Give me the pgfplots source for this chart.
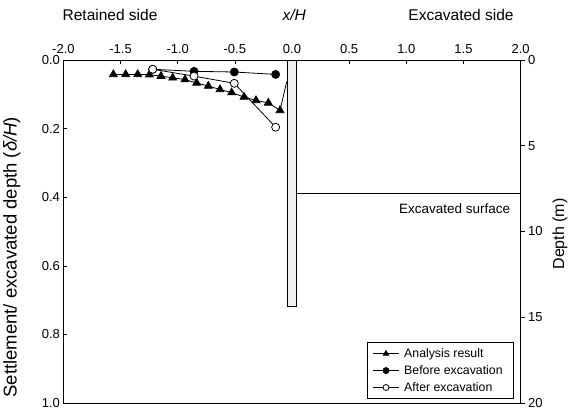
\documentclass[border=0pt]{standalone}
\usepackage{pgfplots}
\pgfplotsset{compat=1.18}
\usepackage{fontspec}
\setmainfont{Liberation Sans}
\begin{document}
\begin{tikzpicture}
\path[use as bounding box] (-63.4pt,-6pt) rectangle (513.6pt,403pt);
\begin{axis}[
  at={(0,0)}, anchor=south west,
  scale only axis, width=457.2pt, height=343pt,
  xmin=-2, xmax=2, ymin=0, ymax=1, y dir=reverse,
  xtick={-2,-1.5,-1,-0.5,0,0.5,1,1.5,2},
  ytick={0,0.2,0.4,0.6,0.8,1},
  xtick pos=upper, xticklabel pos=upper, ytick pos=left,
  tick align=inside,
  major tick length=4pt,
  axis line style={line width=0.8pt},
  tick style={line width=0.6pt, black},
  tick label style={font=\fontsize{13}{15}\selectfont},
  xticklabel style={yshift=3pt},
  /pgf/number format/.cd, fixed, fixed zerofill, precision=1, assume math mode=true,
  /pgfplots/.cd,
  ylabel={Settlement/ excavated depth (\textit{δ/H})},
  ylabel style={at={(axis description cs:-0.1125,0.425)}, anchor=center, rotate=0, font=\fontsize{18.5}{20}\selectfont},
  clip=false,
  legend cell align=left,
  legend image code/.code={\draw[mark repeat=2,mark phase=2,#1, mark size=3pt] plot coordinates {(0cm,0cm) (0.45cm,0cm) (0.9cm,0cm)};},
  legend style={at={(0.9855,0.0117)}, anchor=south east, draw=black, line width=0.6pt,
    font=\fontsize{12.3}{14}\selectfont, inner xsep=6pt, inner ysep=4pt, row sep=2.5pt,
    nodes={inner xsep=5pt}},
]
% wall
\addplot[draw=black, line width=0.8pt, fill=gray!12, forget plot] coordinates {(-0.04,0) (0.04,0) (0.04,0.717) (-0.04,0.717) (-0.04,0)};
% excavated surface
\addplot[black, line width=0.8pt, forget plot] coordinates {(0.04,0.39) (2.0,0.39)};
% analysis
\addplot[black, line width=0.8pt, mark=triangle*, mark size=4.5pt, mark options={fill=black}] coordinates {
(-1.563,0.042) (-1.455,0.042) (-1.350,0.042) (-1.248,0.043) (-1.146,0.047) (-1.044,0.052)
(-0.936,0.057) (-0.834,0.067) (-0.732,0.076) (-0.630,0.086) (-0.528,0.095) (-0.420,0.108)
(-0.315,0.118) (-0.207,0.125) (-0.105,0.147)};
\addlegendentry{Analysis result}
\addplot[black, line width=0.8pt, forget plot] coordinates {(-0.105,0.147) (-0.046,0.063)};
% before
\addplot[black, line width=0.8pt, mark=*, mark size=4pt, mark options={fill=black}] coordinates {
(-1.219,0.027) (-0.857,0.033) (-0.505,0.035) (-0.143,0.042)};
\addlegendentry{Before excavation}
% after
\addplot[black, line width=0.8pt, mark=*, mark size=4pt, mark options={fill=white}] coordinates {
(-1.219,0.027) (-0.857,0.047) (-0.505,0.068) (-0.143,0.196)};
\addlegendentry{After excavation}
\node[font=\fontsize{15.5}{18}\selectfont] at (axis cs:-1.592,-0.131) {Retained side};
\node[font=\fontsize{15.5}{18}\selectfont] at (axis cs:0.02,-0.131) {\textit{x/H}};
\node[font=\fontsize{15.5}{18}\selectfont] at (axis cs:1.479,-0.131) {Excavated side};
\node[anchor=east, font=\fontsize{13.5}{16}\selectfont] at (axis cs:1.94,0.434) {Excavated surface};
\end{axis}
\begin{axis}[
  at={(0,0)}, anchor=south west,
  scale only axis, width=457.2pt, height=343pt,
  xmin=-2, xmax=2, ymin=0, ymax=20, y dir=reverse,
  axis x line=none, axis y line*=right,
  ytick={0,5,10,15,20},
  tick align=outside, major tick length=4pt,
  axis line style={line width=0.8pt},
  tick style={line width=0.6pt, black},
  tick label style={font=\fontsize{13}{15}\selectfont},
  /pgf/number format/assume math mode=true,
  ylabel={Depth (m)},
  ylabel style={at={(axis description cs:1.086,0.493)}, anchor=center, rotate=0, font=\fontsize{16}{18}\selectfont},
]
\addplot[draw=none, forget plot] coordinates {(0,0)};
\end{axis}
\end{tikzpicture}
\end{document}
